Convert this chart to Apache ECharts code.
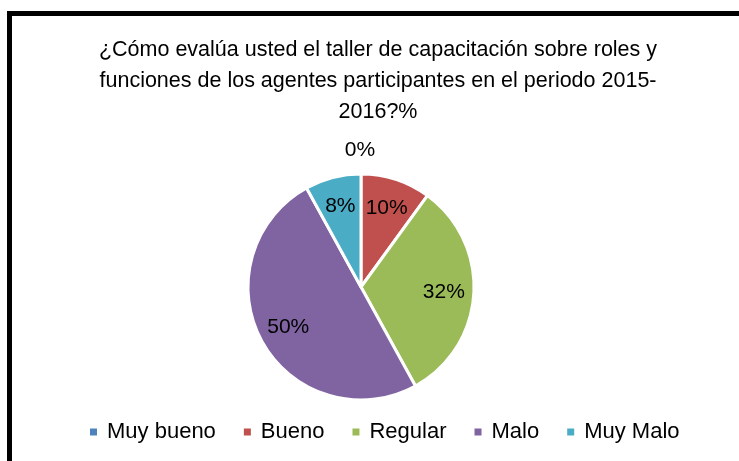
<!DOCTYPE html>
<html>
<head>
<meta charset="utf-8">
<script src="https://cdn.jsdelivr.net/npm/echarts@6/dist/echarts.min.js"></script>
<style>
html,body{margin:0;padding:0;background:#fff;}
#chart{width:739px;height:461px;}
</style>
</head>
<body>
<div id="chart"></div>
<script>
const titleText = '¿Cómo evalúa usted el taller de capacitación sobre roles y\nfunciones de los agentes participantes en el periodo 2015-\n2016?%';
const categories = ['Muy bueno', 'Bueno', 'Regular', 'Malo', 'Muy Malo'];
const values = [0, 10, 32, 50, 8];
const colors = ['#4F81BD', '#C0504D', '#9BBB59', '#8064A2', '#4BACC6'];

const FONT = 'Liberation Sans';
const chart = echarts.init(document.getElementById('chart'), null, {renderer: 'canvas'});

const pieData = categories.map((n, i) => ({name: n, value: values[i]}));
const labelData = categories.map((n, i) => {
  const item = {name: n, value: values[i]};
  if (values[i] === 0) item.label = {offset: [-1, -54]};
  return item;
});

chart.setOption({
  backgroundColor: '#ffffff',
  color: colors,
  animation: false,
  title: {
    text: titleText,
    left: 373,
    top: 30,
    textAlign: 'center',
    textStyle: {fontFamily: FONT, fontSize: 21.5, fontWeight: 'normal', color: '#000', lineHeight: 31}
  },
  legend: {
    bottom: 13,
    left: 83,
    itemWidth: 9,
    itemHeight: 9,
    itemGap: 26,
    icon: 'rect',
    data: categories,
    textStyle: {fontFamily: FONT, fontSize: 22, color: '#000', padding: [0, 0, 0, 4]}
  },
  graphic: [{
    type: 'rect',
    shape: {x: 9.5, y: 13.5, width: 800, height: 500},
    style: {fill: 'none', stroke: '#000', lineWidth: 5},
    silent: true
  }],
  series: [{
    type: 'pie',
    center: [361, 287],
    radius: [0, 113],
    startAngle: 90,
    clockwise: true,
    label: {show: false},
    labelLine: {show: false},
    itemStyle: {borderColor: '#fff', borderWidth: 3},
    emphasis: {disabled: true},
    data: pieData
  }, {
    type: 'pie',
    center: [361, 287],
    radius: [47, 113],
    startAngle: 90,
    clockwise: true,
    silent: true,
    itemStyle: {color: 'rgba(0,0,0,0)'},
    label: {show: true, position: 'inside', formatter: '{c}%', fontFamily: FONT, fontSize: 21, color: '#000'},
    labelLine: {show: false},
    emphasis: {disabled: true},
    data: labelData
  }]
});
</script>
</body>
</html>
